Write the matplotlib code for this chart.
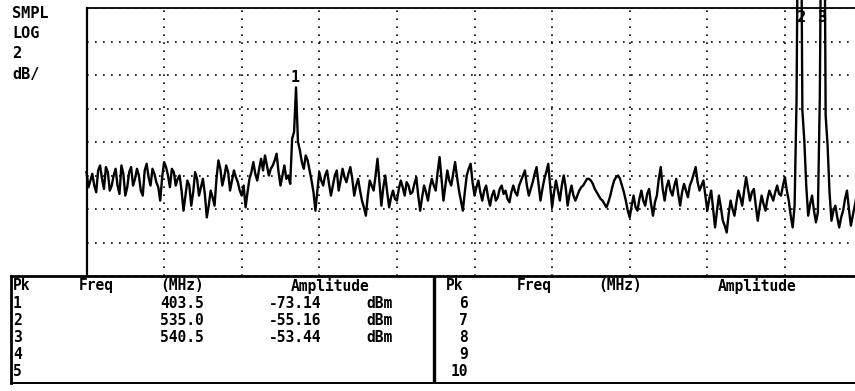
"""Spectrum analyzer screen: marker peak table under a 2 dB/div log trace."""

import matplotlib

matplotlib.use("Agg")
import matplotlib.pyplot as plt  # noqa: E402
import matplotlib.transforms as mtransforms  # noqa: E402
import numpy as np  # noqa: E402

W, H = 855, 391

# analyzer state
START_MHZ = 349.4
STOP_MHZ = 551.0
REF_LEVEL = -68.4  # dBm at top graticule line
DB_PER_DIV = 2
N_DIV_X = 10
N_DIV_Y = 8
settings_lines = ["SMPL", "LOG", "2", "dB/"]

# swept trace, dBm, 401 sweep points
trace_dbm = [
    -78.2, -79.1, -78.7, -78.3, -79.0, -79.4, -78.1, -77.8, -78.6, -79.2,
    -77.9, -78.2, -79.3, -79.0, -78.4, -78.0, -79.0, -79.5, -77.8, -78.3,
    -79.6, -79.1, -78.2, -77.9, -79.0, -78.6, -78.0, -78.4, -79.3, -79.6,
    -78.1, -77.7, -78.5, -79.0, -78.0, -78.3, -78.8, -79.1, -79.9, -78.5,
    -77.6, -77.9, -78.4, -79.1, -78.0, -78.2, -79.0, -78.6, -78.4, -79.3,
    -80.5, -79.6, -78.7, -79.0, -80.2, -79.4, -78.2, -78.6, -79.6, -79.1,
    -78.6, -79.5, -80.9, -80.2, -79.3, -79.7, -80.2, -78.6, -77.5, -78.0,
    -79.0, -78.5, -77.8, -78.2, -79.3, -78.7, -78.1, -78.5, -78.8, -79.3,
    -79.6, -79.0, -80.3, -79.4, -78.6, -78.2, -77.6, -78.3, -78.7, -78.0,
    -77.4, -78.1, -77.2, -77.8, -78.4, -78.0, -77.8, -77.5, -77.1, -78.2,
    -79.0, -78.4, -77.8, -78.6, -78.4, -78.9, -76.2, -75.8, -73.14, -76.4,
    -76.9, -77.6, -78.0, -77.2, -77.5, -78.1, -78.7, -79.4, -80.5, -79.3,
    -78.2, -78.7, -79.0, -78.4, -78.1, -78.9, -79.6, -79.0, -78.4, -78.1,
    -79.3, -78.7, -78.0, -78.5, -78.8, -78.3, -77.9, -78.6, -79.6, -79.0,
    -78.6, -79.3, -79.9, -80.3, -80.8, -79.6, -78.7, -79.0, -79.3, -78.4,
    -77.4, -78.8, -80.2, -79.1, -78.4, -79.4, -80.3, -79.7, -79.3, -79.8,
    -79.9, -79.2, -78.7, -79.1, -79.6, -78.8, -79.0, -79.5, -79.4, -78.9,
    -78.5, -79.6, -80.5, -79.7, -79.0, -79.4, -79.9, -79.1, -78.6, -79.0,
    -79.3, -78.2, -77.3, -78.6, -79.9, -79.0, -78.1, -78.7, -79.0, -78.3,
    -77.6, -78.5, -79.3, -79.9, -80.5, -79.4, -78.4, -78.0, -77.7, -78.8,
    -79.6, -79.1, -78.7, -79.4, -79.9, -79.3, -79.0, -79.7, -80.2, -79.6,
    -79.3, -79.9, -79.7, -79.2, -79.0, -79.5, -79.3, -79.8, -80.0, -79.4,
    -79.0, -79.4, -79.6, -79.0, -78.7, -78.4, -78.1, -79.0, -79.6, -79.2,
    -78.8, -78.3, -77.9, -78.9, -79.9, -79.2, -78.6, -78.2, -77.7, -79.0,
    -80.3, -79.4, -78.7, -79.3, -79.9, -79.0, -78.4, -79.1, -80.2, -79.5,
    -79.0, -79.6, -79.9, -79.6, -79.3, -79.1, -79.0, -78.8, -78.6, -78.6,
    -78.7, -78.9, -79.2, -79.4, -79.6, -79.8, -79.9, -80.1, -80.3, -80.0,
    -79.6, -79.1, -78.7, -78.5, -78.4, -78.6, -79.0, -79.4, -79.9, -80.5,
    -80.9, -80.2, -79.6, -80.3, -80.5, -79.8, -79.3, -79.9, -80.2, -79.5,
    -79.2, -80.1, -80.8, -80.0, -79.6, -78.6, -77.9, -79.2, -79.9, -79.1,
    -78.7, -79.3, -79.6, -79.0, -78.6, -79.5, -80.2, -79.4, -78.9, -79.3,
    -79.7, -79.0, -78.7, -78.3, -77.9, -78.8, -79.3, -79.0, -78.7, -79.6,
    -80.5, -79.8, -79.3, -80.4, -81.5, -80.5, -79.6, -80.3, -81.1, -81.4,
    -81.8, -80.7, -79.9, -80.4, -80.8, -80.0, -79.3, -79.7, -80.2, -79.3,
    -78.5, -79.2, -79.9, -79.4, -79.2, -80.2, -81.1, -80.3, -79.6, -80.1,
    -80.5, -79.8, -79.3, -79.6, -79.9, -79.4, -79.0, -79.5, -79.6, -79.0,
    -78.5, -79.3, -79.9, -80.8, -81.5, -80.2, -73.9, -58.0, -55.16, -74.5,
    -76.3, -79.0, -80.8, -80.1, -79.6, -80.5, -81.2, -80.6, -73.7, -58.0,
    -53.44, -74.8, -76.6, -79.4, -81.1, -80.5, -80.2, -80.9, -81.5, -80.9,
    -80.5, -79.8, -79.3, -80.4, -81.4, -80.8, -80.2, -79.6, -79.2, -79.6,
    -79.9,
]

# marker peak table
marker_ids = ["1", "2", "3"]
marker_freq = [403.5, 535.0, 540.5]
marker_amp = [-73.14, -55.16, -53.44]
table_rows_left = ["1", "2", "3", "4", "5"]
table_rows_right = ["6", "7", "8", "9", "10"]

FONT = "DejaVu Sans Mono"

fig = plt.figure(figsize=(W / 100, H / 100), dpi=100)
fig.patch.set_facecolor("white")

# graticule area, pixel box 86.5..862.5 x 8..276 (right edge runs off the screen)
ax = fig.add_axes([86.5 / W, 1 - 276 / H, 776 / W, 268 / H])
freqs = np.linspace(START_MHZ, STOP_MHZ, len(trace_dbm))
ax.set_xlim(START_MHZ, STOP_MHZ)
ax.set_ylim(REF_LEVEL - DB_PER_DIV * N_DIV_Y, REF_LEVEL)
ax.set_xticks(np.linspace(START_MHZ, STOP_MHZ, N_DIV_X + 1))
ax.set_yticks(REF_LEVEL - DB_PER_DIV * np.arange(N_DIV_Y + 1))
ax.tick_params(length=0, labelbottom=False, labelleft=False)
ax.grid(True, color="black", linestyle=(0, (1, 3.8)), linewidth=1.2)
for side in ("right", "bottom"):
    ax.spines[side].set_visible(False)
ax.spines["left"].set_linewidth(1.6)
ax.spines["top"].set_linewidth(1.3)
ax.plot(freqs, trace_dbm, color="black", linewidth=1.7, clip_on=False, zorder=3)

# marker numbers above peaks
label_tf = mtransforms.blended_transform_factory(ax.transData, ax.transAxes)
label_y = [0.7425, 0.963, 0.963]
for mid, f, ly in zip(marker_ids, marker_freq, label_y):
    ax.text(f, ly, mid, transform=label_tf, ha="center", va="center",
            family=FONT, fontweight="bold", fontsize=11, zorder=4)

# settings annotation, top left
for line, y in zip(settings_lines, [13, 34, 54, 74]):
    fig.text(12 / W, 1 - y / H, line, ha="left", va="center",
             family=FONT, fontweight="bold", fontsize=11)

# peak table, pixel coordinates
tab = fig.add_axes([11 / W, 1 - 383 / H, (W - 11) / W, 107 / H])
tab.set_xlim(11, W)
tab.set_ylim(383, 276)
tab.set_xticks([])
tab.set_yticks([])
tab.spines["right"].set_visible(False)
tab.spines["left"].set_linewidth(2.0)
tab.spines["top"].set_linewidth(2.0)
tab.spines["bottom"].set_linewidth(1.4)
tab.axvline(433.5, color="black", linewidth=2.4)

txt = dict(family=FONT, fontweight="bold", fontsize=10.5, va="center")
row_y = [286, 303.2, 320.4, 337.6, 354.8, 372]

tab.text(13, row_y[0], "Pk", ha="left", **txt)
tab.text(96, row_y[0], "Freq", ha="center", **txt)
tab.text(182, row_y[0], "(MHz)", ha="center", **txt)
tab.text(330, row_y[0], "Amplitude", ha="center", **txt)
tab.text(455, row_y[0], "Pk", ha="center", **txt)
tab.text(534, row_y[0], "Freq", ha="center", **txt)
tab.text(620, row_y[0], "(MHz)", ha="center", **txt)
tab.text(757, row_y[0], "Amplitude", ha="center", **txt)

for row, y in zip(table_rows_left, row_y[1:]):
    tab.text(13, y, row, ha="left", **txt)
for row, y in zip(table_rows_right, row_y[1:]):
    tab.text(468, y, row, ha="right", **txt)
for f, a, y in zip(marker_freq, marker_amp, row_y[1:]):
    tab.text(182, y, f"{f:.1f}", ha="center", **txt)
    tab.text(295, y, f"{a:.2f}", ha="center", **txt)
    tab.text(379, y, "dBm", ha="center", **txt)

fig.savefig("out.png", dpi=100, facecolor="white")
plt.close(fig)
